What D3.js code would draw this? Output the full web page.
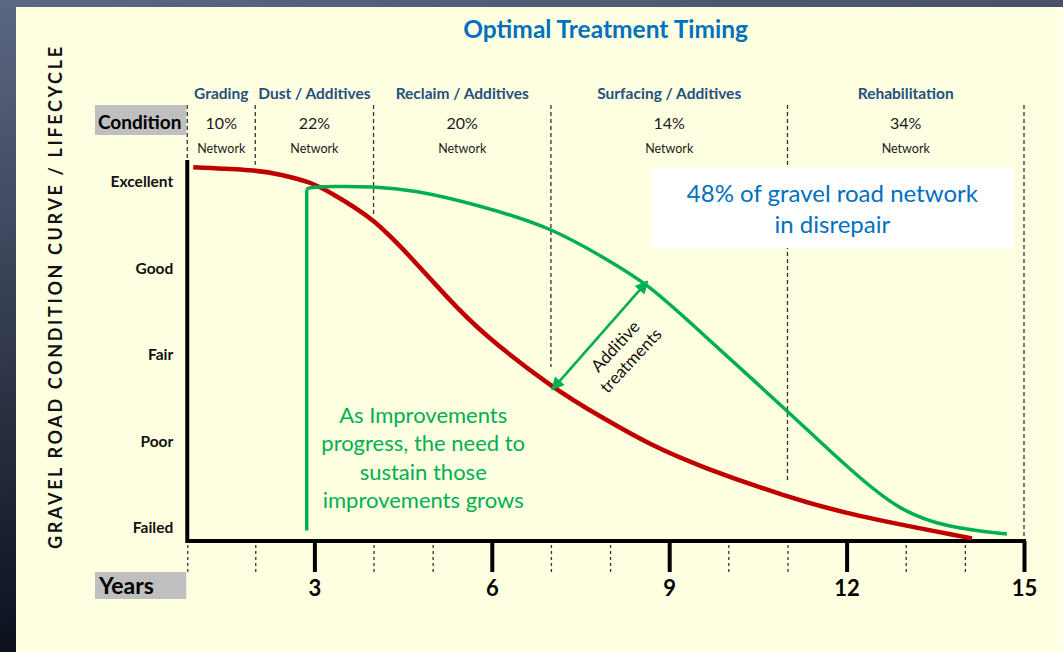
<!DOCTYPE html>
<html>
<head>
<meta charset="utf-8">
<script src="https://cdn.jsdelivr.net/npm/d3@7/dist/d3.min.js"></script>
<style>
  body { margin: 0; background: #1a2133; }
  svg { display: block; }
  text { font-family: Lato, "Open Sans", sans-serif; }
</style>
</head>
<body>
<svg class="chart" width="1063" height="652"></svg>
<script>
// condition levels, bottom to top
var conditionLabels = ["Failed", "Poor", "Fair", "Good", "Excellent"];

// treatment phases along the years axis
var phaseNames = ["Grading", "Dust / Additives", "Reclaim / Additives", "Surfacing / Additives", "Rehabilitation"];
var phaseShares = ["10%", "22%", "20%", "14%", "34%"];
var phaseBounds = [0.85, 2, 4, 7, 11, 15];
var boundEnds = [4.23, 4.2, 3.6, 1.86, 0.53, -0.15];   // condition where each divider stops

var majorYears = [3, 6, 9, 12, 15];
var minorYears = [0.85, 2, 4, 5, 7, 8, 10, 11, 13, 14];

// red: condition without treatment
var redYears = [0.95, 2.0, 2.42, 2.98, 3.26, 3.99, 4.67, 5.24, 5.8, 7.02, 7.88, 8.68, 9.52, 10.99, 12.06, 14.12];
var redCond  = [4.17, 4.14, 4.09, 3.99, 3.88, 3.59, 3.1, 2.67, 2.27, 1.62, 1.27, 0.96, 0.71, 0.36, 0.15, -0.12];

// green: condition with optimal treatment timing
var greenRiseYear = 2.87, greenRiseFrom = -0.03;
var greenYears = [2.87, 2.9, 3.26, 3.99, 4.67, 5.8, 7.02, 7.88, 8.63, 9.52, 10.99, 12.06, 12.9, 13.75, 14.71];
var greenCond  = [3.91, 3.94, 3.95, 3.95, 3.91, 3.73, 3.47, 3.13, 2.83, 2.27, 1.36, 0.67, 0.19, 0.0, -0.07];

// additive treatment arrow (red -> green)
var arrowYears = [7.02, 8.63];
var arrowCond = [1.6, 2.85];

var svg = d3.select(".chart"),
    width = +svg.attr("width"),
    height = +svg.attr("height");

var x = d3.scaleLinear().domain([0, 15]).range([137, 1024]),
    y = d3.scaleLinear().domain([0, 4]).range([528, 182]);

var defs = svg.append("defs");
var bg = defs.append("linearGradient").attr("id", "bg")
    .attr("x1", 0).attr("y1", 0).attr("x2", 0.25).attr("y2", 1);
bg.append("stop").attr("offset", "0%").attr("stop-color", "#5c6782");
bg.append("stop").attr("offset", "100%").attr("stop-color", "#070b17");

defs.append("marker")
    .attr("id", "head")
    .attr("viewBox", "0 0 10 10")
    .attr("refX", 9).attr("refY", 5)
    .attr("markerWidth", 5.6).attr("markerHeight", 5)
    .attr("orient", "auto-start-reverse")
    .append("path")
    .attr("d", "M0,0L10,5L0,10z")
    .attr("fill", "#00b050");

svg.append("rect").attr("width", width).attr("height", height).attr("fill", "url(#bg)");
svg.append("rect")
    .attr("x", 16).attr("y", 7)
    .attr("width", width - 16).attr("height", height - 7)
    .attr("fill", "#ffffe1");

// title
svg.append("text")
    .attr("x", (x(0.85) + x(15)) / 2)
    .attr("y", 38)
    .attr("text-anchor", "middle")
    .attr("font-size", 24.5)
    .attr("font-weight", "bold")
    .attr("fill", "#0070c0")
    .text("Optimal Treatment Timing");

// vertical axis title
svg.append("text")
    .attr("transform", "translate(62,298) rotate(-90)")
    .attr("text-anchor", "middle")
    .attr("font-family", "'DejaVu Sans', Verdana, sans-serif")
    .attr("font-size", 18)
    .attr("font-weight", "bold")
    .attr("fill", "#111")
    .attr("textLength", 502)
    .attr("lengthAdjust", "spacing")
    .text("GRAVEL ROAD CONDITION CURVE / LIFECYCLE");

// header rows
var headTop = 105;

svg.append("rect")
    .attr("x", 95).attr("y", headTop)
    .attr("width", x(0.85) - 96).attr("height", 30)
    .attr("fill", "#bfbfbf");
svg.append("text")
    .attr("x", 98).attr("y", 129)
    .attr("font-size", 19)
    .attr("font-weight", "bold")
    .attr("fill", "#000")
    .text("Condition");

var phases = svg.append("g").attr("class", "phases")
    .selectAll("g")
    .data(phaseNames)
    .enter().append("g")
    .attr("transform", function(d, i) {
        return "translate(" + x((phaseBounds[i] + phaseBounds[i + 1]) / 2) + ",0)";
    });

phases.append("text")
    .attr("y", 99)
    .attr("text-anchor", "middle")
    .attr("font-size", 15.5)
    .attr("font-weight", "bold")
    .attr("fill", "#24507f")
    .text(function(d) { return d; });

phases.append("text")
    .attr("y", 129)
    .attr("text-anchor", "middle")
    .attr("font-size", 16)
    .attr("fill", "#1a1a1a")
    .text(function(d, i) { return phaseShares[i]; });

phases.append("text")
    .attr("y", 153)
    .attr("text-anchor", "middle")
    .attr("font-size", 12.5)
    .attr("fill", "#1a1a1a")
    .text("Network");

svg.append("g").attr("class", "dividers")
    .selectAll("line")
    .data(phaseBounds)
    .enter().append("line")
    .attr("x1", function(d) { return x(d); })
    .attr("x2", function(d) { return x(d); })
    .attr("y1", headTop)
    .attr("y2", function(d, i) { return y(boundEnds[i]); })
    .attr("stroke", "#333")
    .attr("stroke-width", 1.3)
    .attr("stroke-dasharray", "4,3");

// "48%" note box
var noteBox = svg.append("g");
noteBox.append("rect")
    .attr("x", x(8.705)).attr("y", y(4.162))
    .attr("width", x(14.815) - x(8.705))
    .attr("height", y(3.237) - y(4.162))
    .attr("fill", "#ffffff");
noteBox.append("text")
    .attr("x", x(11.76)).attr("y", y(4.162) + 34)
    .attr("text-anchor", "middle")
    .attr("font-size", 24)
    .attr("fill", "#0070c0")
    .selectAll("tspan")
    .data(["48% of gravel road network", "in disrepair"])
    .enter().append("tspan")
    .attr("x", x(11.76))
    .attr("dy", function(d, i) { return i ? 31 : 0; })
    .text(function(d) { return d; });

// green improvement note
svg.append("text")
    .attr("x", x(4.84)).attr("y", y(1.214))
    .attr("text-anchor", "middle")
    .attr("font-size", 22)
    .attr("fill", "#00b050")
    .selectAll("tspan")
    .data(["As Improvements", "progress, the need to", "sustain those", "improvements grows"])
    .enter().append("tspan")
    .attr("x", x(4.84))
    .attr("dy", function(d, i) { return i ? 28.5 : 0; })
    .text(function(d) { return d; });

// axes
var xAxisY = y(-0.15);

var gMinor = svg.append("g")
    .attr("transform", "translate(0," + (xAxisY + 4) + ")")
    .call(d3.axisBottom(x).tickValues(minorYears).tickSize(27).tickFormat(""));
gMinor.select(".domain").remove();
gMinor.selectAll(".tick line")
    .attr("stroke", "#333")
    .attr("stroke-width", 1.3)
    .attr("stroke-dasharray", "3,3");

var gMajor = svg.append("g")
    .attr("transform", "translate(0," + xAxisY + ")")
    .call(d3.axisBottom(x).tickValues(majorYears).tickSize(31).tickPadding(8).tickFormat(d3.format("d")));
gMajor.select(".domain").remove();
gMajor.selectAll(".tick line").attr("stroke", "#000").attr("stroke-width", 4);
gMajor.selectAll(".tick text")
    .attr("font-family", "'Liberation Serif', 'Times New Roman', serif")
    .attr("font-weight", "bold")
    .attr("font-size", 22)
    .attr("fill", "#000");

var gy = svg.append("g")
    .attr("transform", "translate(" + x(0.85) + ",0)")
    .call(d3.axisLeft(y).tickValues(d3.range(conditionLabels.length)).tickSize(0).tickPadding(14)
        .tickFormat(function(d) { return conditionLabels[d]; }));
gy.select(".domain").remove();
gy.selectAll(".tick text")
    .attr("font-family", "'Liberation Sans Narrow', 'DejaVu Sans Condensed', 'Arial Narrow', Lato, sans-serif")
    .attr("font-weight", "bold")
    .attr("font-size", 15.5)
    .attr("fill", "#111");

svg.append("path")
    .attr("d", "M" + x(0.85) + "," + y(4.23) + "V" + xAxisY + "H" + x(15))
    .attr("fill", "none")
    .attr("stroke", "#000")
    .attr("stroke-width", 4)
    .attr("stroke-linecap", "square");

svg.append("rect")
    .attr("x", 95).attr("y", xAxisY + 31)
    .attr("width", x(0.85) - 96).attr("height", 27)
    .attr("fill", "#bfbfbf");
svg.append("text")
    .attr("x", 99).attr("y", xAxisY + 53)
    .attr("font-size", 23)
    .attr("font-weight", "bold")
    .attr("fill", "#000")
    .text("Years");

// curves
var line = d3.line()
    .x(function(d) { return x(d[0]); })
    .y(function(d) { return y(d[1]); })
    .curve(d3.curveBasis);

svg.append("path")
    .datum(d3.zip(redYears, redCond))
    .attr("d", line)
    .attr("fill", "none")
    .attr("stroke", "#c00000")
    .attr("stroke-width", 4.5);

svg.append("line")
    .attr("x1", x(greenRiseYear)).attr("x2", x(greenRiseYear))
    .attr("y1", y(greenRiseFrom)).attr("y2", y(greenCond[0]))
    .attr("stroke", "#00b050")
    .attr("stroke-width", 3.5);

svg.append("path")
    .datum(d3.zip(greenYears, greenCond))
    .attr("d", line)
    .attr("fill", "none")
    .attr("stroke", "#00b050")
    .attr("stroke-width", 3.5);

// additive arrow
svg.append("line")
    .attr("x1", x(arrowYears[0])).attr("y1", y(arrowCond[0]))
    .attr("x2", x(arrowYears[1])).attr("y2", y(arrowCond[1]))
    .attr("stroke", "#00b050")
    .attr("stroke-width", 2.6)
    .attr("marker-start", "url(#head)")
    .attr("marker-end", "url(#head)");

svg.append("text")
    .attr("transform", "translate(" + x(8.2) + "," + y(2.03) + ") rotate(-47)")
    .attr("text-anchor", "middle")
    .attr("font-size", 17)
    .attr("fill", "#111")
    .selectAll("tspan")
    .data(["Additive", "treatments"])
    .enter().append("tspan")
    .attr("x", 0)
    .attr("dy", function(d, i) { return i ? 21 : -3; })
    .text(function(d) { return d; });
</script>
</body>
</html>
